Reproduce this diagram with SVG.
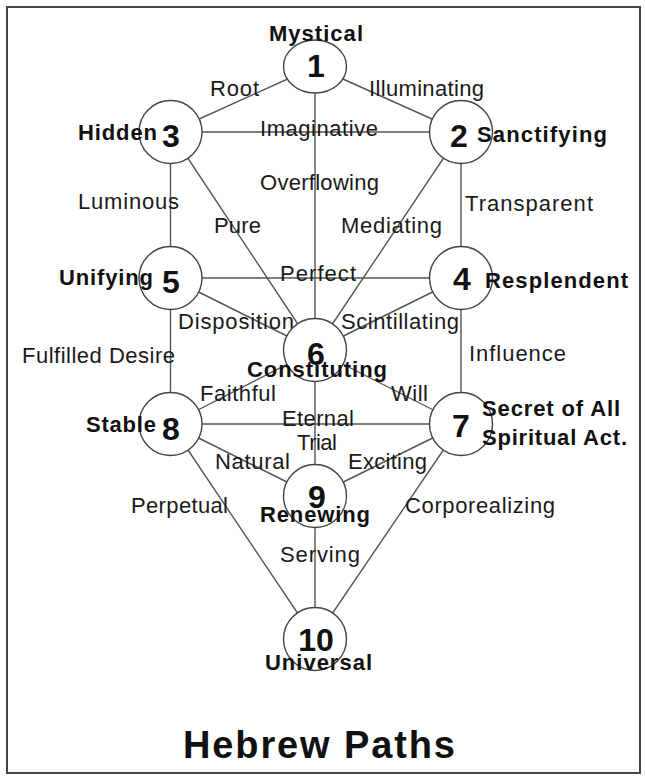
<svg xmlns="http://www.w3.org/2000/svg" width="645" height="776" viewBox="0 0 645 776">
<style>
.frame{fill:#fff;stroke:#444;stroke-width:2}
.ln{stroke:#555;stroke-width:1.4;fill:none}
.nd{fill:#fff;stroke:#444;stroke-width:1.4}
.num{font-family:"Liberation Sans",Arial,sans-serif;font-weight:bold;font-size:32px;fill:#111;text-anchor:middle}
.nm{font-family:"Liberation Sans",Arial,sans-serif;font-weight:bold;font-size:22px;fill:#111}
.lb{font-family:"Liberation Sans",Arial,sans-serif;font-size:22px;fill:#1a1a1a}
.title{font-family:"Liberation Sans",Arial,sans-serif;font-weight:bold;font-size:38px;fill:#111}
</style>
<rect class="frame" x="7" y="7" width="633" height="766"/>
<g id="connectors">
<line class="ln" x1="315" y1="66.5" x2="461" y2="132"/>
<line class="ln" x1="315" y1="66.5" x2="170.5" y2="132"/>
<line class="ln" x1="315" y1="66.5" x2="315" y2="639"/>
<line class="ln" x1="170.5" y1="132" x2="461" y2="132"/>
<line class="ln" x1="461" y1="132" x2="461" y2="424"/>
<line class="ln" x1="170.5" y1="132" x2="170.5" y2="424"/>
<line class="ln" x1="461" y1="132" x2="315" y2="350"/>
<line class="ln" x1="170.5" y1="132" x2="315" y2="350"/>
<line class="ln" x1="170.5" y1="278" x2="461" y2="278"/>
<line class="ln" x1="461" y1="278" x2="315" y2="350"/>
<line class="ln" x1="170.5" y1="278" x2="315" y2="350"/>
<line class="ln" x1="315" y1="350" x2="461" y2="424"/>
<line class="ln" x1="315" y1="350" x2="170.5" y2="424"/>
<line class="ln" x1="170.5" y1="424" x2="461" y2="424"/>
<line class="ln" x1="461" y1="424" x2="315" y2="496"/>
<line class="ln" x1="170.5" y1="424" x2="315" y2="496"/>
<line class="ln" x1="461" y1="424" x2="315" y2="639"/>
<line class="ln" x1="170.5" y1="424" x2="315" y2="639"/>
</g>
<g id="labels">
<text class="lb" x="210" y="96" textLength="49" lengthAdjust="spacing">Root</text>
<text class="lb" x="369" y="96" textLength="115" lengthAdjust="spacing">Illuminating</text>
<text class="lb" x="260" y="136" textLength="118" lengthAdjust="spacing">Imaginative</text>
<text class="lb" x="260" y="190" textLength="119" lengthAdjust="spacing">Overflowing</text>
<text class="lb" x="78" y="209" textLength="101" lengthAdjust="spacing">Luminous</text>
<text class="lb" x="465" y="211" textLength="128" lengthAdjust="spacing">Transparent</text>
<text class="lb" x="214" y="233" textLength="47" lengthAdjust="spacing">Pure</text>
<text class="lb" x="341" y="233" textLength="101" lengthAdjust="spacing">Mediating</text>
<text class="lb" x="280" y="281" textLength="76" lengthAdjust="spacing">Perfect</text>
<text class="lb" x="178" y="329" textLength="116" lengthAdjust="spacing">Disposition</text>
<text class="lb" x="341" y="329" textLength="118" lengthAdjust="spacing">Scintillating</text>
<text class="lb" x="22" y="363" textLength="153" lengthAdjust="spacing">Fulfilled Desire</text>
<text class="lb" x="469" y="361" textLength="97" lengthAdjust="spacing">Influence</text>
<text class="lb" x="200" y="401" textLength="76" lengthAdjust="spacing">Faithful</text>
<text class="lb" x="391" y="401" textLength="37" lengthAdjust="spacing">Will</text>
<text class="lb" x="282" y="426" textLength="72" lengthAdjust="spacing">Eternal</text>
<text class="lb" x="297" y="450" textLength="40" lengthAdjust="spacing">Trial</text>
<text class="lb" x="215" y="469" textLength="75" lengthAdjust="spacing">Natural</text>
<text class="lb" x="348" y="469" textLength="79" lengthAdjust="spacing">Exciting</text>
<text class="lb" x="131" y="513" textLength="97" lengthAdjust="spacing">Perpetual</text>
<text class="lb" x="405" y="513" textLength="150" lengthAdjust="spacing">Corporealizing</text>
<text class="lb" x="280" y="562" textLength="80" lengthAdjust="spacing">Serving</text>
</g>
<g id="n1">
<ellipse class="nd" cx="315" cy="66.5" rx="31.5" ry="26.5"/>
<text class="nm" x="269" y="41" textLength="94" lengthAdjust="spacing">Mystical</text>
<text class="num" x="316" y="77">1</text>
</g>
<g id="n2">
<circle class="nd" cx="461" cy="132" r="31.5"/>
<text class="num" x="459" y="147">2</text>
<text class="nm" x="477" y="142" textLength="130" lengthAdjust="spacing">Sanctifying</text>
</g>
<g id="n3">
<circle class="nd" cx="170.5" cy="132" r="31.5"/>
<text class="num" x="171" y="147">3</text>
<text class="nm" x="78" y="140" textLength="79" lengthAdjust="spacing">Hidden</text>
</g>
<g id="n4">
<circle class="nd" cx="461" cy="278" r="31.5"/>
<text class="num" x="462" y="290">4</text>
<text class="nm" x="485" y="288" textLength="143" lengthAdjust="spacing">Resplendent</text>
</g>
<g id="n5">
<circle class="nd" cx="170.5" cy="278" r="31.5"/>
<text class="num" x="171" y="293">5</text>
<text class="nm" x="59" y="285" textLength="94" lengthAdjust="spacing">Unifying</text>
</g>
<g id="n6">
<circle class="nd" cx="315" cy="350" r="31.5"/>
<text class="num" x="316" y="365">6</text>
<text class="nm" x="247" y="377" textLength="140" lengthAdjust="spacing">Constituting</text>
</g>
<g id="n7">
<circle class="nd" cx="461" cy="424" r="31.5"/>
<text class="num" x="461" y="437">7</text>
<text class="nm" x="482" y="416" textLength="138" lengthAdjust="spacing">Secret of All</text>
<text class="nm" x="482" y="445" textLength="145" lengthAdjust="spacing">Spiritual Act.</text>
</g>
<g id="n8">
<circle class="nd" cx="170.5" cy="424" r="31.5"/>
<text class="num" x="171" y="440">8</text>
<text class="nm" x="86" y="432" textLength="70" lengthAdjust="spacing">Stable</text>
</g>
<g id="n9">
<circle class="nd" cx="315" cy="496" r="31.5"/>
<text class="num" x="317" y="508">9</text>
<text class="nm" x="260" y="522" textLength="110" lengthAdjust="spacing">Renewing</text>
</g>
<g id="n10">
<circle class="nd" cx="315" cy="639" r="31.5"/>
<text class="num" x="316" y="651">10</text>
<text class="nm" x="265" y="670" textLength="107" lengthAdjust="spacing">Universal</text>
</g>
<text class="title" x="183" y="758" textLength="272" lengthAdjust="spacing">Hebrew Paths</text>
</svg>
